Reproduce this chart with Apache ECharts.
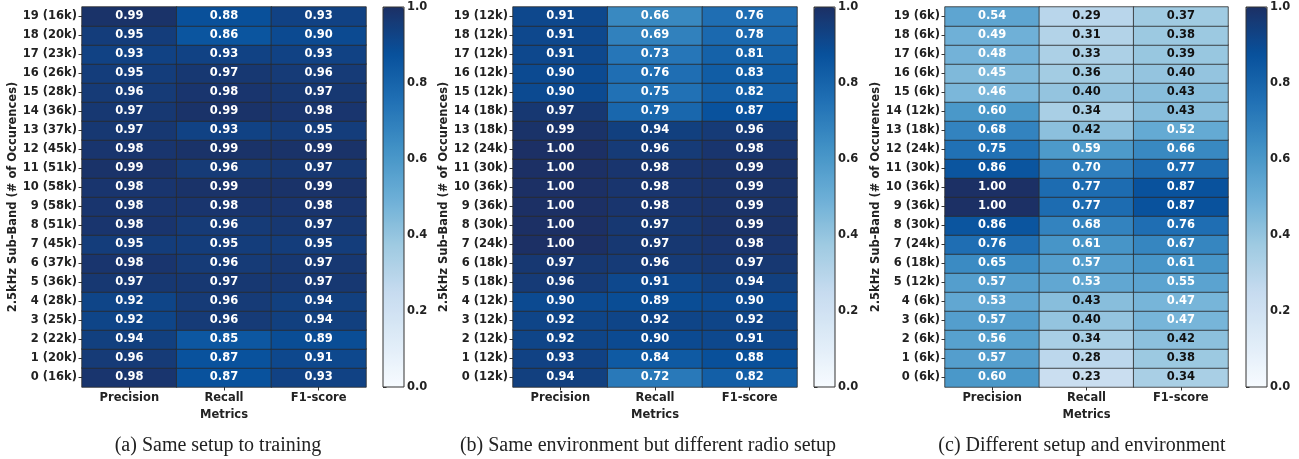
<!DOCTYPE html>
<html>
<head>
<meta charset="utf-8">
<script src="https://cdn.jsdelivr.net/npm/echarts@6/dist/echarts.min.js"></script>
<style>
  html, body { margin: 0; padding: 0; background: #fff; }
  #chart { width: 1299px; height: 459px; }
</style>
</head>
<body>
<div id="chart"></div>
<script>
// ---- Data ----
const metrics = ['Precision', 'Recall', 'F1-score'];

const bandsA = ['0 (16k)','1 (20k)','2 (22k)','3 (25k)','4 (28k)','5 (36k)','6 (37k)','7 (45k)','8 (51k)','9 (58k)','10 (58k)','11 (51k)','12 (45k)','13 (37k)','14 (36k)','15 (28k)','16 (26k)','17 (23k)','18 (20k)','19 (16k)'];
const precisionA = [0.98,0.96,0.94,0.92,0.92,0.97,0.98,0.95,0.98,0.98,0.98,0.99,0.98,0.97,0.97,0.96,0.95,0.93,0.95,0.99];
const recallA    = [0.87,0.87,0.85,0.96,0.96,0.97,0.96,0.95,0.96,0.98,0.99,0.96,0.99,0.93,0.99,0.98,0.97,0.93,0.86,0.88];
const f1A        = [0.93,0.91,0.89,0.94,0.94,0.97,0.97,0.95,0.97,0.98,0.99,0.97,0.99,0.95,0.98,0.97,0.96,0.93,0.90,0.93];

const bandsB = ['0 (12k)','1 (12k)','2 (12k)','3 (12k)','4 (12k)','5 (18k)','6 (18k)','7 (24k)','8 (30k)','9 (36k)','10 (36k)','11 (30k)','12 (24k)','13 (18k)','14 (18k)','15 (12k)','16 (12k)','17 (12k)','18 (12k)','19 (12k)'];
const precisionB = [0.94,0.93,0.92,0.92,0.90,0.96,0.97,1.00,1.00,1.00,1.00,1.00,1.00,0.99,0.97,0.90,0.90,0.91,0.91,0.91];
const recallB    = [0.72,0.84,0.90,0.92,0.89,0.91,0.96,0.97,0.97,0.98,0.98,0.98,0.96,0.94,0.79,0.75,0.76,0.73,0.69,0.66];
const f1B        = [0.82,0.88,0.91,0.92,0.90,0.94,0.97,0.98,0.99,0.99,0.99,0.99,0.98,0.96,0.87,0.82,0.83,0.81,0.78,0.76];

const bandsC = ['0 (6k)','1 (6k)','2 (6k)','3 (6k)','4 (6k)','5 (12k)','6 (18k)','7 (24k)','8 (30k)','9 (36k)','10 (36k)','11 (30k)','12 (24k)','13 (18k)','14 (12k)','15 (6k)','16 (6k)','17 (6k)','18 (6k)','19 (6k)'];
const precisionC = [0.60,0.57,0.56,0.57,0.53,0.57,0.65,0.76,0.86,1.00,1.00,0.86,0.75,0.68,0.60,0.46,0.45,0.48,0.49,0.54];
const recallC    = [0.23,0.28,0.34,0.40,0.43,0.53,0.57,0.61,0.68,0.77,0.77,0.70,0.59,0.42,0.34,0.40,0.36,0.33,0.31,0.29];
const f1C        = [0.34,0.38,0.42,0.47,0.47,0.55,0.61,0.67,0.76,0.87,0.87,0.77,0.66,0.52,0.43,0.43,0.40,0.39,0.38,0.37];

const colorbarTicks = [0.0, 0.2, 0.4, 0.6, 0.8, 1.0];
const captions = ['(a) Same setup to training', '(b) Same environment but different radio setup', '(c) Different setup and environment'];

// ---- Build ----
const panels = [
  { bands: bandsA, cols: [precisionA, recallA, f1A] },
  { bands: bandsB, cols: [precisionB, recallB, f1B] },
  { bands: bandsC, cols: [precisionC, recallC, f1C] }
];
const layout = [
  { left: 82,  width: 284, cbLeft: 383,  cap: 218 },
  { left: 513, width: 284, cbLeft: 814,  cap: 648 },
  { left: 945, width: 283, cbLeft: 1246, cap: 1082 }
];
const TOP = 7, H = 380, CBW = 21;
const blues = ['#f7fbff','#deebf7','#c6dbef','#9ecae1','#6baed6','#4292c6','#2171b5','#08519c','#1c3065'];
const FONT = 'DejaVu Sans';
const TXT = '#222';
const AX = 11.5;

const grids = [], xAxes = [], yAxes = [], series = [], visualMaps = [];

panels.forEach((p, i) => {
  const L = layout[i];
  grids.push({ left: L.left, top: TOP, width: L.width, height: H });
  xAxes.push({
    type: 'category', gridIndex: grids.length - 1, data: metrics,
    name: 'Metrics', nameLocation: 'middle', nameGap: 19,
    nameTextStyle: { fontFamily: FONT, fontWeight: 'bold', fontSize: AX, color: TXT },
    axisLine: { show: false },
    axisTick: { show: true, alignWithLabel: true, length: 3.5, lineStyle: { color: '#333' } },
    axisLabel: { fontFamily: FONT, fontWeight: 'bold', fontSize: AX, color: TXT, margin: 5 },
    splitLine: { show: false }
  });
  yAxes.push({
    type: 'category', gridIndex: grids.length - 1, data: p.bands,
    name: '2.5kHz Sub-Band (# of Occurences)', nameLocation: 'middle', nameGap: 60,
    nameTextStyle: { fontFamily: FONT, fontWeight: 'bold', fontSize: AX, color: TXT },
    axisLine: { show: false },
    axisTick: { show: true, alignWithLabel: true, length: 3.5, lineStyle: { color: '#333' } },
    axisLabel: { fontFamily: FONT, fontWeight: 'bold', fontSize: AX, color: TXT, margin: 5 },
    splitLine: { show: false }
  });
  const data = [];
  p.cols.forEach((col, ci) => col.forEach((v, ri) => data.push([ci, ri, v])));
  const sIdx = series.length;
  series.push({
    type: 'heatmap', xAxisIndex: xAxes.length - 1, yAxisIndex: yAxes.length - 1,
    data: data,
    itemStyle: { borderColor: '#2b2b2b', borderWidth: 0.8 },
    label: {
      show: true,
      formatter: (prm) => {
        const v = prm.value[2];
        return (v < 0.44 ? '{k|' : '{w|') + v.toFixed(2) + '}';
      },
      rich: {
        w: { color: '#ffffff', fontFamily: FONT, fontWeight: 'bold', fontSize: 11.5 },
        k: { color: '#111111', fontFamily: FONT, fontWeight: 'bold', fontSize: 11.5 }
      }
    },
    emphasis: { disabled: true }
  });
  visualMaps.push({
    type: 'continuous', seriesIndex: sIdx, min: 0, max: 1,
    calculable: false, hoverLink: false, realtime: false,
    orient: 'vertical', left: L.cbLeft, top: TOP, padding: 0,
    itemWidth: CBW, itemHeight: H, text: null, showLabel: false,
    inRange: { color: blues }
  });
  grids.push({ left: L.cbLeft, top: TOP, width: CBW, height: H, show: true, borderColor: '#333', borderWidth: 1, backgroundColor: 'transparent', z: 10 });
  xAxes.push({ type: 'value', gridIndex: grids.length - 1, min: 0, max: 1, show: false });
  yAxes.push({
    type: 'value', gridIndex: grids.length - 1, min: 0, max: 1, interval: 0.2, position: 'right',
    axisLine: { show: false },
    axisTick: { show: true, length: 3.5, lineStyle: { color: '#333' } },
    axisLabel: { fontFamily: FONT, fontWeight: 'bold', fontSize: AX, color: TXT, margin: 3,
      formatter: (v) => colorbarTicks.some(t => Math.abs(t - v) < 1e-9) ? v.toFixed(1) : '' },
    splitLine: { show: false }
  });
});

const chart = echarts.init(document.getElementById('chart'), null, { renderer: 'canvas' });
chart.setOption({
  animation: false,
  backgroundColor: '#ffffff',
  grid: grids, xAxis: xAxes, yAxis: yAxes,
  visualMap: visualMaps, series: series,
  graphic: captions.map((c, i) => ({
    type: 'text', x: layout[i].cap, y: 446,
    style: { text: c, textAlign: 'center', textVerticalAlign: 'middle',
      font: '20px "Liberation Serif", serif', fill: '#222' }
  }))
});
</script>
</body>
</html>
